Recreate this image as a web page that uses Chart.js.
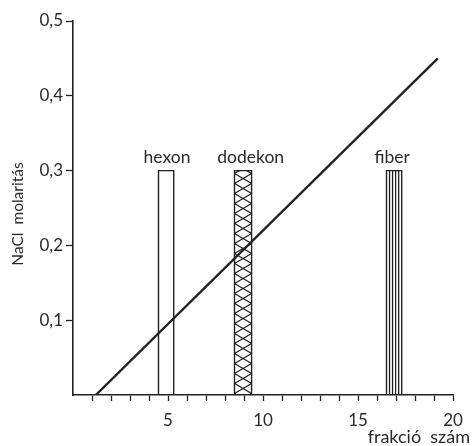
<!DOCTYPE html>
<html>
<head>
<meta charset="utf-8">
<script src="https://cdn.jsdelivr.net/npm/chart.js@4/dist/chart.umd.min.js"></script>
<style>
  html, body { margin: 0; padding: 0; background: #fff; }
  #wrap { width: 472px; height: 446px; }
</style>
</head>
<body>
<div id="wrap"><canvas id="fractionChart" width="472" height="446"></canvas></div>
<script>
// Sógradiens és a frakciók sávjai
var gradientX = [1.2, 19.2];
var gradientY = [0, 0.45];

var bandNames = ['hexon', 'dodekon', 'fiber'];
var bandStart = [4.5, 8.5, 16.5];
var bandEnd = [5.3, 9.4, 17.3];
var bandTop = [0.3, 0.3, 0.3];
var bandLabelAt = [4.95, 9.35, 16.8];
var bandFill = ['none', 'cross', 'stripes'];

var xTicks = [5, 10, 15, 20];
var yTicks = [0.1, 0.2, 0.3, 0.4, 0.5];

var ink = '#222';
var fontFamily = 'Lato, "Noto Sans", sans-serif';

// a sávok körvonala vonal-adatsorként
var bandSets = bandNames.map(function (name, i) {
    return {
        label: name,
        data: [
            { x: bandStart[i], y: 0 },
            { x: bandStart[i], y: bandTop[i] },
            { x: bandEnd[i], y: bandTop[i] },
            { x: bandEnd[i], y: 0 }
        ],
        showLine: true,
        borderColor: ink,
        borderWidth: 1.4,
        pointRadius: 0,
        fill: false,
        tension: 0
    };
});

var gradientSet = {
    label: 'NaCl',
    data: gradientX.map(function (x, i) { return { x: x, y: gradientY[i] }; }),
    showLine: true,
    borderColor: ink,
    borderWidth: 2.4,
    pointRadius: 0,
    fill: false
};

// sraffozás a sávokon belül
var hatchPlugin = {
    id: 'hatch',
    beforeDatasetsDraw: function (chart) {
        var ctx = chart.ctx;
        var xs = chart.scales.x, ys = chart.scales.y;
        bandNames.forEach(function (name, i) {
            if (bandFill[i] === 'none') return;
            var x0 = xs.getPixelForValue(bandStart[i]);
            var x1 = xs.getPixelForValue(bandEnd[i]);
            var yT = ys.getPixelForValue(bandTop[i]);
            var yB = ys.getPixelForValue(0);
            var w = x1 - x0;
            ctx.save();
            ctx.beginPath();
            ctx.rect(x0, yT, w, yB - yT);
            ctx.clip();
            ctx.strokeStyle = ink;
            ctx.lineWidth = 1.3;
            ctx.beginPath();
            if (bandFill[i] === 'cross') {
                var step = 10;
                for (var y = yT - w; y < yB + w; y += step) {
                    ctx.moveTo(x0, y);
                    ctx.lineTo(x1, y + step);
                    ctx.moveTo(x1, y);
                    ctx.lineTo(x0, y + step);
                }
            } else if (bandFill[i] === 'stripes') {
                for (var k = 1; k < 5; k++) {
                    var xx = x0 + w * k / 5;
                    ctx.moveTo(xx, yT);
                    ctx.lineTo(xx, yB);
                }
            }
            ctx.stroke();
            ctx.restore();
        });
    }
};

// feliratok: sávnevek és tengelycímek
var textPlugin = {
    id: 'texts',
    afterDraw: function (chart) {
        var ctx = chart.ctx;
        var xs = chart.scales.x, ys = chart.scales.y;
        ctx.save();
        ctx.fillStyle = '#2a2a2a';
        ctx.font = '17.5px ' + fontFamily;
        ctx.textAlign = 'center';
        ctx.textBaseline = 'alphabetic';
        bandNames.forEach(function (name, i) {
            ctx.fillText(name, xs.getPixelForValue(bandLabelAt[i]), ys.getPixelForValue(bandTop[i]) - 8);
        });

        ctx.font = '18px ' + fontFamily;
        ctx.textAlign = 'right';
        ctx.fillText('frakció  szám', 470, 443);

        ctx.translate(18, 214);
        ctx.rotate(-Math.PI / 2);
        ctx.textAlign = 'center';
        ctx.textBaseline = 'middle';
        ctx.font = '15.5px ' + fontFamily;
        ctx.fillText('NaCl  molaritás', 0, 0);
        ctx.restore();
    }
};

var ctx1 = document.getElementById('fractionChart').getContext('2d');
var fractionChart = new Chart(ctx1, {
    type: 'scatter',
    data: { datasets: [gradientSet].concat(bandSets) },
    options: {
        responsive: false,
        animation: false,
        layout: { padding: { top: 21, right: 19, left: 0, bottom: 0 } },
        plugins: { legend: { display: false }, tooltip: { enabled: false } },
        scales: {
            x: {
                type: 'linear',
                min: 0,
                max: 20,
                afterFit: function (scale) { scale.height = 51; },
                ticks: {
                    stepSize: 1,
                    autoSkip: false,
                    maxRotation: 0,
                    padding: 9,
                    color: '#2a2a2a',
                    font: { family: fontFamily, size: 17 },
                    callback: function (v) { return xTicks.indexOf(v) >= 0 ? String(v) : ''; }
                },
                grid: {
                    drawOnChartArea: false,
                    drawTicks: true,
                    tickLength: 6,
                    tickWidth: 1.3,
                    tickColor: function (c) { return c.tick && c.tick.value === 0 ? 'rgba(0,0,0,0)' : ink; }
                },
                border: { display: true, color: ink, width: 1.6 }
            },
            y: {
                type: 'linear',
                min: 0,
                max: 0.5,
                afterFit: function (scale) { scale.width = 73; },
                ticks: {
                    stepSize: 0.1,
                    padding: 3,
                    color: '#2a2a2a',
                    font: { family: fontFamily, size: 17 },
                    callback: function (v) {
                        var hit = yTicks.find(function (t) { return Math.abs(t - v) < 1e-6; });
                        return hit ? hit.toFixed(1).replace('.', ',') : '';
                    }
                },
                grid: {
                    drawOnChartArea: false,
                    drawTicks: true,
                    tickLength: 7,
                    tickWidth: 1.3,
                    tickColor: function (c) { return c.tick && c.tick.value === 0 ? 'rgba(0,0,0,0)' : ink; }
                },
                border: { display: true, color: ink, width: 1.6 }
            }
        }
    },
    plugins: [hatchPlugin, textPlugin]
});
</script>
</body>
</html>
